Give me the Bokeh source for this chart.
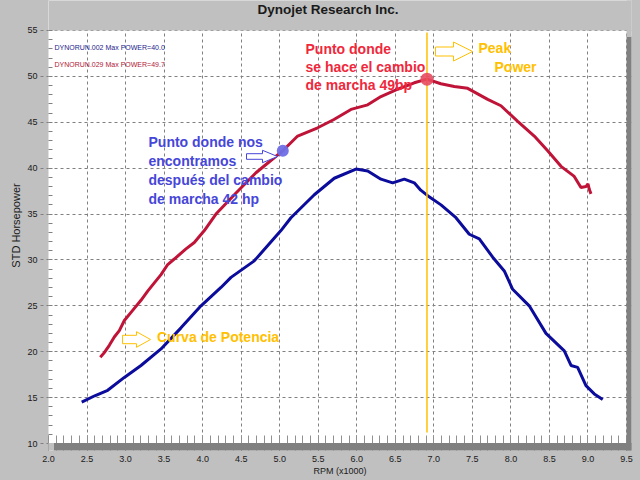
from bokeh.plotting import figure
from bokeh.models import (Range1d, SingleIntervalTicker, PrintfTickFormatter, Label,
                          GlobalInlineStyleSheet)
from bokeh.embed import file_html
from bokeh.resources import INLINE

# ---------------- data ----------------
chart_title = "Dynojet Research Inc."
run_names = ["DYNORUN.002", "DYNORUN.029"]
max_power = [40.0, 49.7]

rpm_run029 = [2.672, 2.724, 2.789, 2.854, 2.919, 2.984, 3.092, 3.200, 3.287, 3.373,
              3.460, 3.547, 3.632, 3.784, 3.892, 4.022, 4.173, 4.433, 4.692, 4.909,
              5.040, 5.233, 5.493, 5.704, 5.925, 6.142, 6.314, 6.531, 6.746, 6.911,
              7.091, 7.265, 7.439, 7.699, 7.871, 8.088, 8.303, 8.477, 8.650, 8.822,
              8.909, 8.974, 9.000, 9.017, 9.039]
hp_run029 = [19.4, 19.9, 20.7, 21.6, 22.3, 23.4, 24.5, 25.6, 26.6, 27.5,
             28.4, 29.5, 30.1, 31.2, 31.9, 33.2, 35.0, 37.3, 39.5, 41.0,
             41.9, 43.5, 44.4, 45.3, 46.4, 46.9, 47.8, 48.6, 49.3, 49.7,
             49.2, 48.9, 48.7, 47.5, 46.8, 45.1, 43.5, 41.9, 40.2, 39.1,
             37.9, 38.0, 38.3, 37.7, 37.2]

rpm_run002 = [2.431, 2.600, 2.768, 2.984, 3.200, 3.460, 3.719, 3.979, 4.238, 4.368,
              4.670, 5.016, 5.146, 5.449, 5.708, 5.990, 6.142, 6.314, 6.466, 6.617,
              6.746, 6.830, 6.920, 7.093, 7.287, 7.460, 7.590, 7.764, 7.914, 8.023,
              8.238, 8.455, 8.693, 8.780, 8.866, 8.974, 9.082, 9.191]
hp_run002 = [14.5, 15.2, 15.8, 17.2, 18.5, 20.3, 22.6, 25.0, 27.0, 28.1,
             29.9, 33.2, 34.6, 37.1, 38.9, 39.9, 39.7, 38.8, 38.4, 38.8,
             38.4, 37.6, 37.0, 36.0, 34.6, 32.8, 32.3, 30.3, 28.8, 26.8,
             25.0, 22.0, 20.1, 18.5, 18.3, 16.3, 15.4, 14.8]

peak_rpm = [6.911]
peak_hp = [49.7]
shift_rpm = [5.04]
shift_hp = [41.9]

x_ticks_interval = 0.5
y_ticks_interval = 5
y_axis_bounds = (10, 55)

# ---------------- pixel helpers (layout only) ----------------
XPX0, XSC = 48.0, 77.067     # 2.0 rpm at x=48, px per 1000 rpm
YPX0, YSC = 443.0, 9.178     # 10 hp at y=443, px per hp


def xd(px):
    return 2.0 + (px - XPX0) / XSC


def yd(py):
    return 10.0 + (YPX0 - py) / YSC


SILVER = "#c0c0c0"
SHADOW = "#808080"
GRID = "#808080"
RED_LINE = "#bf1438"
BLUE_LINE = "#0c0c9c"
RED_TXT = "#f0283c"
BLUE_TXT = "#4646d8"
YEL = "#ffc000"
FONT = "Liberation Sans"

# frame covers the top strip too (title lives there), bottom at y=450
p = figure(width=640, height=480, output_backend="svg", toolbar_location=None,
           x_range=Range1d(2.0, xd(631)), y_range=Range1d(yd(450), yd(0)),
           min_border_left=48, min_border_right=9, min_border_top=0, min_border_bottom=30)

p.stylesheets = [GlobalInlineStyleSheet(
    css="html, body {margin:0 !important; padding:0; background:#c0c0c0; overflow:hidden;}")]

p.background_fill_color = "white"
p.border_fill_color = SILVER
p.outline_line_color = None

# axes
p.xaxis.ticker = SingleIntervalTicker(interval=x_ticks_interval, num_minor_ticks=5)
p.yaxis.ticker = SingleIntervalTicker(interval=y_ticks_interval, num_minor_ticks=5)
p.yaxis.bounds = y_axis_bounds
p.xaxis.formatter = PrintfTickFormatter(format="%.1f")
p.yaxis.formatter = PrintfTickFormatter(format="%d")

for ax in (p.xaxis[0], p.yaxis[0]):
    ax.axis_line_color = None
    ax.major_label_text_font = FONT
    ax.major_label_text_font_size = "9px"
    ax.major_label_text_color = "#1a1a1a"
    ax.axis_label_text_font = FONT
    ax.axis_label_text_font_style = "normal"
    ax.axis_label_text_color = "#1a1a1a"
    ax.major_tick_line_color = GRID
    ax.minor_tick_line_color = GRID

p.xaxis.axis_label = "RPM (x1000)"
p.xaxis.axis_label_text_font_size = "9px"
p.xaxis.major_tick_in = 15
p.xaxis.major_tick_out = 0
p.xaxis.minor_tick_in = 15
p.xaxis.minor_tick_out = 0
p.xaxis.minor_tick_line_color = "#909090"
p.xaxis.major_label_standoff = 5
p.xaxis.axis_label_standoff = 1

p.yaxis.axis_label = "STD Horsepower"
p.yaxis.axis_label_text_font_size = "11px"
p.yaxis.major_tick_in = 0
p.yaxis.major_tick_out = 8
p.yaxis.major_tick_line_dash = "3 3"
p.yaxis.minor_tick_in = 4
p.yaxis.minor_tick_out = 0
p.yaxis.major_label_standoff = 3
p.yaxis.axis_label_standoff = 2

p.xgrid.grid_line_color = GRID
p.xgrid.grid_line_dash = "3 3"
p.xgrid.grid_line_width = 1
p.ygrid.grid_line_color = GRID
p.ygrid.grid_line_dash = "3 3"
p.ygrid.grid_line_width = 1

# silver strip above the plot area (covers grid lines there)
p.quad(left=[2.0], right=[xd(631)], bottom=[55.0], top=[yd(0)],
       fill_color=SILVER, line_color=None)

# shadow of the plot area, corners silver (drawn above the axis ticks)
p.quad(left=[9.5], right=[xd(631)], bottom=[yd(450)], top=[yd(36)],
       fill_color=SHADOW, line_color=None, level="overlay")
p.quad(left=[xd(53)], right=[xd(631)], bottom=[yd(450)], top=[yd(442.5)],
       fill_color=SHADOW, line_color=None, level="overlay")
p.quad(left=[9.5], right=[xd(631)], bottom=[yd(36)], top=[yd(0)],
       fill_color=SILVER, line_color=None, level="overlay")
p.quad(left=[2.0], right=[xd(53)], bottom=[yd(450)], top=[yd(442.5)],
       fill_color=SILVER, line_color=None, level="overlay")

# curves
p.line(rpm_run029, hp_run029, line_color=RED_LINE, line_width=3)
p.line(rpm_run002, hp_run002, line_color=BLUE_LINE, line_width=3)

# peak power vertical marker
p.segment(x0=peak_rpm, y0=[yd(432)], x1=peak_rpm, y1=[yd(32)],
          line_color=YEL, line_width=1.5)

# points
p.scatter(peak_rpm, peak_hp, size=13, fill_color="#e84a5f", line_color=None, fill_alpha=0.9)
p.scatter(shift_rpm, shift_hp, size=12, fill_color="#6e6ee6", line_color=None, fill_alpha=0.95)


# hollow arrows
def arrow(x0, xs, xt_, yc, sh, hh, color):
    xsx = [x0, xs, xs, xt_, xs, xs, x0]
    ysy = [yc - sh, yc - sh, yc - hh, yc, yc + hh, yc + sh, yc + sh]
    p.patch([xd(v) for v in xsx], [yd(v) for v in ysy],
            fill_color="white", line_color=color, line_width=1)


arrow(246, 262, 277, 156, 2.8, 6.2, BLUE_TXT)
arrow(435, 453, 472, 51, 4.5, 9.5, YEL)
arrow(122, 136, 150, 339, 4.2, 7.8, YEL)


def label(text, px, py, color, size="14px", bold=True, align="left"):
    p.add_layout(Label(x=xd(px), y=yd(py), text=text, text_color=color,
                       text_font=FONT, text_font_size=size,
                       text_font_style="bold" if bold else "normal",
                       text_baseline="middle", text_align=align))


# title
label(chart_title, 327.5, 8.5, "#1a1a1a", size="13.5px", bold=True, align="center")

# legend-like run texts
label(f"{run_names[0]} Max POWER={max_power[0]:.1f}", 54, 46.7, "#1c1c8c", size="7px", bold=False)
label(f"{run_names[1]} Max POWER={max_power[1]:.1f}", 54, 64.0, "#b01838", size="7px", bold=False)

# red annotation
for i, t in enumerate(["Punto donde", "se hace el cambio", "de marcha 49bp"]):
    label(t, 305, 48.0 + 18.3 * i, RED_TXT)

# blue annotation
for i, t in enumerate(["Punto donde nos", "encontramos", "después del cambio", "de marcha 42 hp"]):
    label(t, 148, 141.7 + 19 * i, BLUE_TXT)

label("Peak", 478, 47.2, YEL)
label("Power", 494, 66.2, YEL)
label("Curva de Potencia", 156.5, 336.0, YEL)

open("out.html", "w").write(file_html(p, INLINE))
